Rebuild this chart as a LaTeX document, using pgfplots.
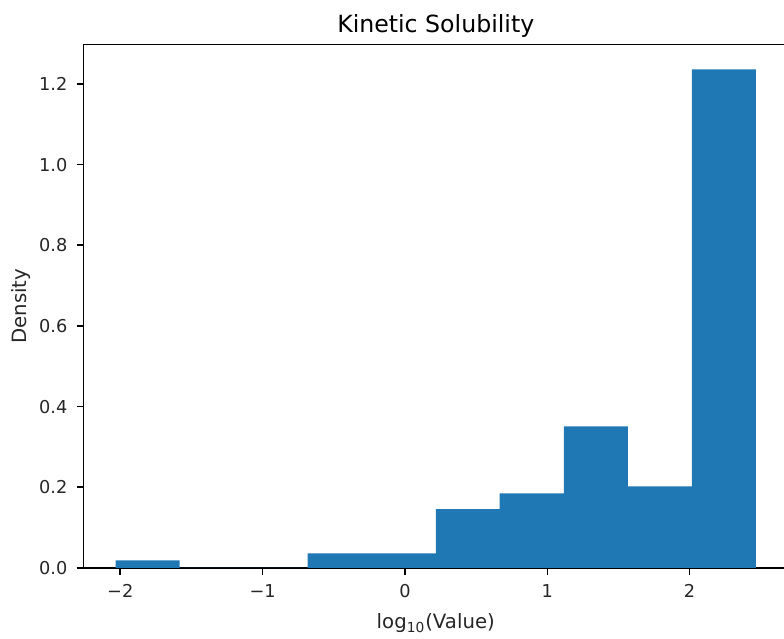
\documentclass[border=0pt]{standalone}
\usepackage{fontspec}
\setmainfont{DejaVu Sans}
\usepackage{pgfplots}
\pgfplotsset{compat=1.18}
\definecolor{mplblue}{HTML}{1F77B4}
\begin{document}
\begin{tikzpicture}
\begin{axis}[
  width=357.5pt, height=265.7pt, scale only axis,
  xmin=-2.258, xmax=2.691, ymin=0, ymax=1.298,
  axis line style={line width=0.8pt},
  tick align=outside, major tick length=3.5pt,
  xtick pos=bottom, ytick pos=left,
  every tick/.style={black, line width=0.8pt},
  xtick={-2,-1,0,1,2}, xticklabels={−2,−1,0,1,2},
  ytick={0,0.2,0.4,0.6,0.8,1.0,1.2},
  yticklabels={0.0,0.2,0.4,0.6,0.8,1.0,1.2},
  ticklabel style={font=\fontsize{9}{11}\selectfont, text=black!85},
  xticklabel style={inner sep=0pt, yshift=-4.5pt},
  yticklabel style={inner sep=0pt, xshift=-4.5pt},
  title={Kinetic Solubility},
  every axis title/.style={font=\fontsize{12}{14}\selectfont, at={(0.5,1)}, anchor=base, inner sep=0pt, yshift=6.2pt},
  xlabel={log\textsubscript{10}(Value)},
  ylabel={Density},
  label style={font=\fontsize{10}{12}\selectfont, text=black!85},
  xlabel style={inner sep=0pt, yshift=-8pt, anchor=north},
  ylabel style={inner sep=0pt, yshift=4pt},
]
\addplot[ybar interval, fill=mplblue, draw=none] coordinates {
(-2.033,0.019) (-1.583,0) (-1.133,0) (-0.683,0.036) (-0.233,0.036)
(0.217,0.146) (0.666,0.185) (1.116,0.351) (1.566,0.202) (2.016,1.236) (2.466,1.236)
};
\coordinate (xcut) at (axis cs:2.663,0);
\end{axis}
\coordinate (bl) at (current bounding box.south west);
\coordinate (tr) at (current bounding box.north east);
\pgfresetboundingbox
\useasboundingbox ([shift={(-6pt,-3pt)}]bl) rectangle ([yshift=7.2pt]tr -| xcut);
\end{tikzpicture}
\end{document}
